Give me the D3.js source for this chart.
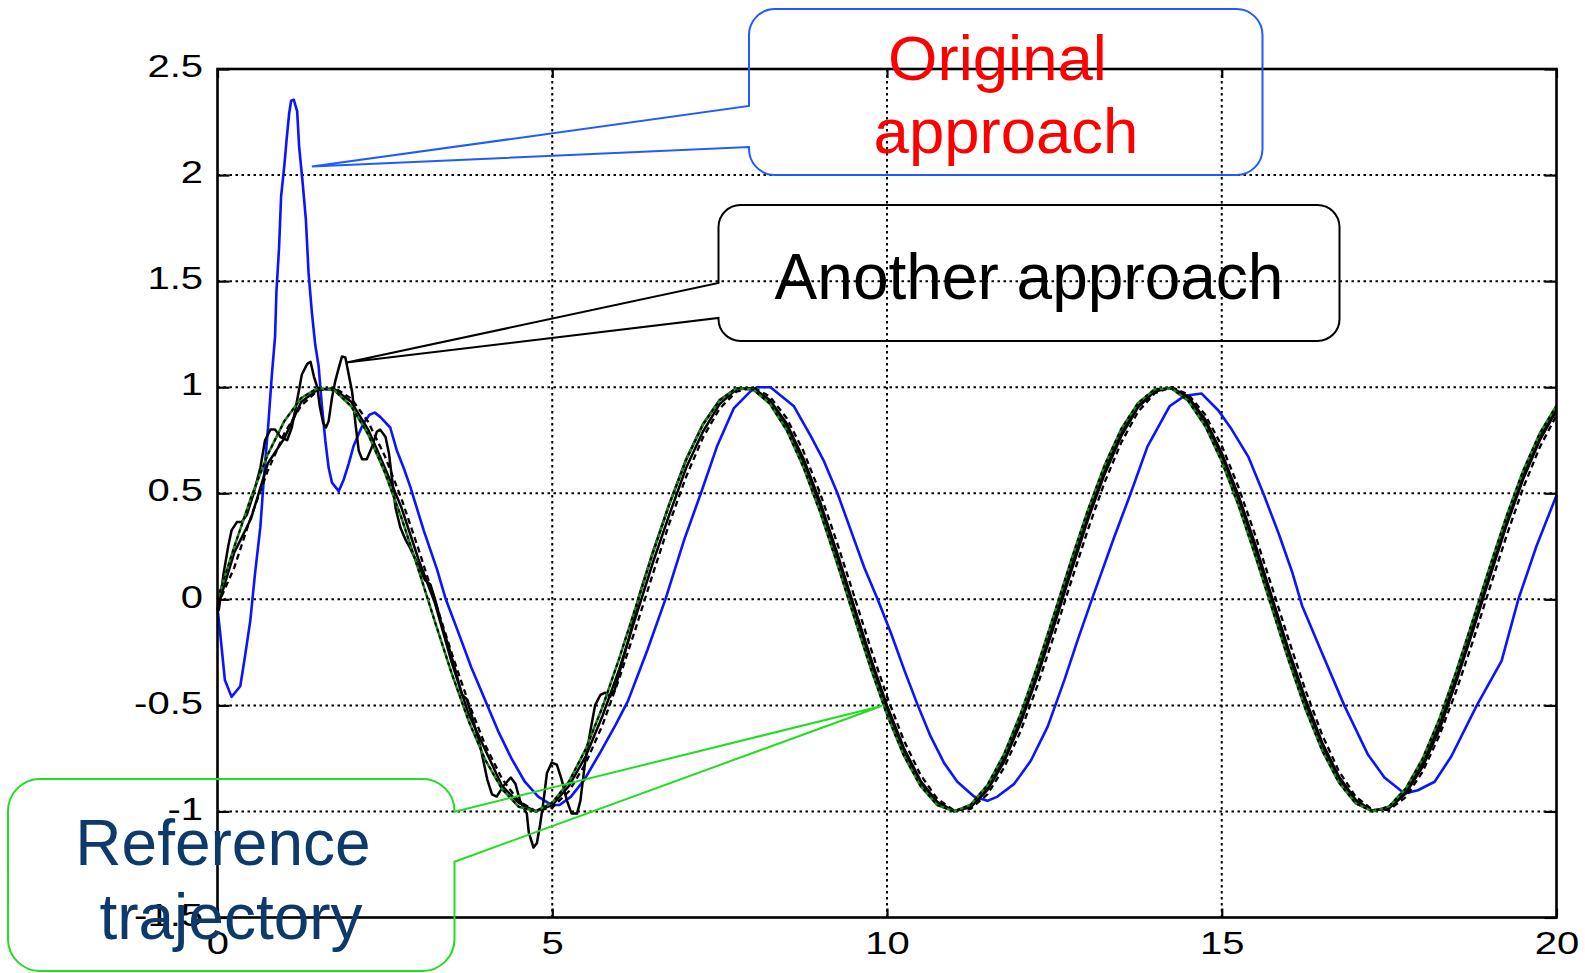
<!DOCTYPE html>
<html>
<head>
<meta charset="utf-8">
<script src="https://cdn.jsdelivr.net/npm/d3@7"></script>
<style>
  body { margin: 0; background: #fff; }
  svg { display: block; font-family: "Liberation Sans", Arial, Helvetica, sans-serif; }
</style>
</head>
<body>
<div id="chart"></div>
<script>
// ---- values ----
const xTicks = [0, 5, 10, 15, 20];
const yTicks = [-1.5, -1, -0.5, 0, 0.5, 1, 1.5, 2, 2.5];
const yTickLabels = ["-1.5", "-1", "-0.5", "0", "0.5", "1", "1.5", "2", "2.5"];

// common time grid for the smooth curves
const sampleT = [
  0, 0.25, 0.5, 0.75, 1, 1.25, 1.5, 1.75, 2, 2.25, 2.5, 2.75, 3, 3.25, 3.5, 3.75, 4, 4.25, 4.5, 4.75,
  5, 5.25, 5.5, 5.75, 6, 6.25, 6.5, 6.75, 7, 7.25, 7.5, 7.75, 8, 8.25, 8.5, 8.75, 9, 9.25, 9.5, 9.75,
  10, 10.25, 10.5, 10.75, 11, 11.25, 11.5, 11.75, 12, 12.25, 12.5, 12.75, 13, 13.25, 13.5, 13.75, 14, 14.25, 14.5, 14.75,
  15, 15.25, 15.5, 15.75, 16, 16.25, 16.5, 16.75, 17, 17.25, 17.5, 17.75, 18, 18.25, 18.5, 18.75, 19, 19.25, 19.5, 19.75,
  20
];

// reference trajectory (green)
const referenceY = [
  0, 0.247, 0.479, 0.682, 0.841, 0.949, 0.997, 0.984, 0.909, 0.778, 0.598, 0.382, 0.141, -0.108, -0.351, -0.572, -0.757, -0.895, -0.978, -0.999,
  -0.959, -0.859, -0.706, -0.508, -0.279, -0.033, 0.215, 0.450, 0.657, 0.823, 0.938, 0.995, 0.989, 0.922, 0.798, 0.624, 0.412, 0.174, -0.075, -0.319,
  -0.544, -0.736, -0.880, -0.970, -1.000, -0.968, -0.876, -0.729, -0.536, -0.311, -0.066, 0.183, 0.420, 0.632, 0.804, 0.926, 0.991, 0.994, 0.935, 0.818,
  0.650, 0.443, 0.206, -0.042, -0.289, -0.517, -0.713, -0.864, -0.962, -1.000, -0.976, -0.891, -0.751, -0.564, -0.342, -0.099, 0.150, 0.389, 0.605, 0.783,
  0.913
];

// black dashed response
const dashedY = [
  -0.03, 0.149, 0.389, 0.605, 0.783, 0.913, 0.985, 0.997, 0.946, 0.837, 0.675, 0.472, 0.239, -0.008, -0.256, -0.488, -0.688, -0.846, -0.952, -0.998,
  -0.982, -0.905, -0.773, -0.593, -0.374, -0.133, 0.117, 0.359, 0.578, 0.762, 0.899, 0.979, 0.999, 0.956, 0.855, 0.700, 0.501, 0.271, 0.025, -0.224,
  -0.458, -0.664, -0.827, -0.940, -0.995, -0.988, -0.919, -0.793, -0.618, -0.404, -0.165, 0.083, 0.328, 0.551, 0.740, 0.884, 0.972, 1.000, 0.966, 0.871,
  0.724, 0.529, 0.303, 0.058, -0.191, -0.428, -0.639, -0.810, -0.930, -0.992, -0.993, -0.932, -0.813, -0.643, -0.434, -0.198, 0.050, 0.296, 0.523, 0.717,
  0.867
];

// second black solid response
const solidY = [
  -0.04, 0.22, 0.38, 0.64, 0.76, 0.93, 0.99, 0.99, 0.93, 0.80, 0.62, 0.43, 0.19, -0.02, -0.30, -0.54, -0.71, -0.88, -0.96, -1.0,
  -0.97, -0.88, -0.74, -0.55, -0.33, -0.08, 0.17, 0.40, 0.62, 0.79, 0.92, 0.99, 0.995, 0.94, 0.83, 0.665, 0.46, 0.225, -0.025, -0.27,
  -0.50, -0.70, -0.855, -0.955, -0.998, -0.98, -0.90, -0.765, -0.58, -0.36, -0.12, 0.13, 0.375, 0.59, 0.77, 0.905, 0.98, 0.998, 0.955, 0.85,
  0.69, 0.49, 0.26, 0.01, -0.24, -0.47, -0.675, -0.835, -0.945, -0.997, -0.985, -0.915, -0.79, -0.615, -0.39, -0.15, 0.10, 0.345, 0.565, 0.75,
  0.89
];

// "Another approach" (black, wiggly)
const anotherT = [
  0, 0.02, 0.09, 0.16, 0.21, 0.29, 0.36, 0.44, 0.54, 0.64, 0.71, 0.79, 0.86, 0.94, 1.04, 1.11, 1.19, 1.26, 1.34, 1.39,
  1.44, 1.49, 1.53, 1.58, 1.62, 1.66, 1.71, 1.76, 1.81, 1.86, 1.91, 1.96, 2.01, 2.06, 2.11, 2.16, 2.23, 2.31, 2.38, 2.43,
  2.51, 2.56, 2.61, 2.66, 2.73, 2.81, 2.88,
  3.0, 3.1, 3.18, 3.25, 3.35, 3.45, 3.55, 3.65, 3.72, 3.8, 3.93, 4.03, 4.10, 4.17, 4.27, 4.38, 4.45, 4.52, 4.62, 4.65,
  4.72, 4.77, 4.82, 4.87, 4.92, 4.99, 5.07, 5.14, 5.22, 5.29, 5.37, 5.42, 5.49, 5.57, 5.64, 5.72, 5.79, 5.86, 5.93, 6.05,
  6.15, 6.3,
  6.5, 6.75, 7, 7.25, 7.5, 7.75, 8, 8.25, 8.5, 8.75, 9, 9.25, 9.5, 9.75, 10, 10.25, 10.5, 10.75, 11, 11.25,
  11.5, 11.75, 12, 12.25, 12.5, 12.75, 13, 13.25, 13.5, 13.75, 14, 14.25, 14.5, 14.75, 15, 15.25, 15.5, 15.75, 16, 16.25,
  16.5, 16.75, 17, 17.25, 17.5, 17.75, 18, 18.25, 18.5, 18.75, 19, 19.25, 19.5, 19.75, 20
];
const anotherY = [
  -0.04, -0.05, 0.12, 0.25, 0.325, 0.364, 0.364, 0.40, 0.50, 0.62, 0.75, 0.80, 0.80, 0.765, 0.75, 0.81, 0.94, 1.06, 1.11, 1.12,
  1.05, 1.0, 0.906, 0.83, 0.81, 0.84, 0.95, 1.03, 1.09, 1.145, 1.14, 1.06, 0.98, 0.83, 0.70, 0.66, 0.66, 0.72, 0.79, 0.80,
  0.765, 0.69, 0.56, 0.43, 0.34, 0.28, 0.24,
  0.16, 0.09, 0.07, 0.0, -0.12, -0.22, -0.33, -0.45, -0.47, -0.55, -0.70, -0.85, -0.92, -0.93, -0.88, -0.84, -0.87, -0.95, -1.01, -1.10,
  -1.17, -1.15, -1.06, -0.95, -0.82, -0.77, -0.78, -0.85, -0.95, -1.01, -1.01, -0.95, -0.77, -0.62, -0.50, -0.45, -0.44, -0.46, -0.43, -0.29,
  -0.18, 0.02,
  0.22, 0.45, 0.66, 0.825, 0.94, 0.995, 0.99, 0.93, 0.81, 0.645, 0.44, 0.20, -0.045, -0.29, -0.52, -0.715, -0.865, -0.96, -1.0, -0.975,
  -0.89, -0.75, -0.555, -0.335, -0.09, 0.155, 0.40, 0.61, 0.79, 0.915, 0.985, 0.998, 0.945, 0.835, 0.67, 0.47, 0.235, -0.015, -0.265, -0.495,
  -0.695, -0.85, -0.955, -0.998, -0.98, -0.905, -0.77, -0.59, -0.365, -0.125, 0.125, 0.365, 0.585, 0.77, 0.90
];

// "Original approach" (blue)
const originalT = [
  0, 0.04, 0.11, 0.21, 0.34, 0.41, 0.49, 0.56, 0.64, 0.69, 0.76, 0.81, 0.86, 0.88, 0.92, 0.95, 1.0, 1.03, 1.07, 1.10,
  1.14, 1.19, 1.22, 1.27, 1.32, 1.36, 1.41, 1.46, 1.51, 1.56, 1.61, 1.66, 1.71, 1.81, 1.88, 1.96, 2.03, 2.11, 2.18, 2.27,
  2.35, 2.43, 2.58, 2.68, 2.78, 2.88, 3.08, 3.28, 3.41, 3.59, 3.79, 3.99, 4.19, 4.39, 4.59, 4.79, 4.99, 5.11, 5.28, 5.48,
  5.72, 5.95, 6.13, 6.42, 6.69, 6.97, 7.22, 7.46, 7.71, 7.96, 8.06, 8.26, 8.61, 8.86, 9.06, 9.26, 9.46, 9.66, 9.86, 10.06,
  10.26, 10.46, 10.65, 10.85, 11.05, 11.3, 11.5, 11.65, 11.9, 12.15, 12.4, 12.65, 12.85, 13.06, 13.22, 13.39, 13.64, 13.89, 14.22, 14.45,
  14.7, 14.95, 15.15, 15.4, 15.62, 15.85, 16.05, 16.2, 16.48, 16.83, 17.18, 17.43, 17.73, 17.93, 18.18, 18.43, 18.81, 19.18, 19.43, 19.7,
  20
];
const originalY = [
  -0.04, -0.16, -0.38, -0.46, -0.41, -0.27, -0.10, 0.12, 0.34, 0.56, 0.83, 1.05, 1.24, 1.45, 1.66, 1.90, 2.05, 2.16, 2.29, 2.35,
  2.355, 2.30, 2.13, 1.97, 1.79, 1.54, 1.35, 1.20, 1.10, 0.91, 0.75, 0.62, 0.55, 0.51, 0.56, 0.64, 0.72, 0.78, 0.83, 0.87,
  0.88, 0.86, 0.81, 0.70, 0.62, 0.53, 0.325, 0.14, 0.0, -0.15, -0.32, -0.47, -0.62, -0.75, -0.86, -0.93, -0.97, -0.97, -0.93, -0.85,
  -0.72, -0.59, -0.48, -0.24, 0.0, 0.28, 0.5, 0.72, 0.90, 0.98, 1.0, 1.0, 0.91, 0.77, 0.65, 0.5, 0.325, 0.15, 0.0, -0.16,
  -0.335, -0.5, -0.645, -0.77, -0.86, -0.93, -0.95, -0.93, -0.87, -0.76, -0.60, -0.38, -0.19, 0.0, 0.14, 0.29, 0.5, 0.72, 0.91, 0.96,
  0.97, 0.89, 0.80, 0.67, 0.5, 0.31, 0.13, -0.03, -0.24, -0.5, -0.73, -0.84, -0.915, -0.9, -0.86, -0.74, -0.5, -0.29, 0.0, 0.25,
  0.49
];

// callout labels and the data point each one points at
const calloutLines = [["Original", "approach"], ["Another approach"], ["Reference", "trajectory"]];
const calloutTips = [[1.41, 2.04], [1.93, 1.116], [9.92, -0.503]];

// ---- layout ----
const width = 1585,
  height = 973;
const plot = { left: 217.5, right: 1556.5, top: 69, bottom: 917.5 };

const svg = d3.select("#chart")
  .append("svg")
  .attr("width", width)
  .attr("height", height);

const x = d3.scaleLinear().domain([0, 20]).range([plot.left, plot.right]);
const y = d3.scaleLinear().domain([-1.5, 2.5]).range([plot.bottom, plot.top]);

// dotted grid
const grid = svg.append("g")
  .attr("stroke", "#000")
  .attr("stroke-width", 2)
  .attr("stroke-dasharray", "2.5,3.5");
grid.selectAll(".gx")
  .data(xTicks.slice(1, -1))
  .enter()
  .append("line")
  .attr("x1", d => x(d)).attr("x2", d => x(d))
  .attr("y1", plot.top).attr("y2", plot.bottom);
grid.selectAll(".gy")
  .data(yTicks.slice(1, -1))
  .enter()
  .append("line")
  .attr("y1", d => y(d)).attr("y2", d => y(d))
  .attr("x1", plot.left).attr("x2", plot.right);

// curves
const line = d3.line()
  .x(d => x(d[0]))
  .y(d => y(d[1]));

const series = [
  { t: originalT, v: originalY, stroke: "#0a14ff", width: 2.6, dash: null },
  { t: anotherT, v: anotherY, stroke: "#000", width: 2.5, dash: null },
  { t: sampleT, v: solidY, stroke: "#000", width: 2.5, dash: null },
  { t: sampleT, v: dashedY, stroke: "#000", width: 2.3, dash: "6,4" },
  { t: sampleT, v: referenceY, stroke: "#1a8a1a", width: 2.5, dash: null },
  { t: sampleT, v: referenceY, stroke: "#000", width: 2, dash: "3.5,3.5" }
];

svg.append("g")
  .attr("fill", "none")
  .selectAll("path")
  .data(series)
  .enter()
  .append("path")
  .attr("d", d => line(d3.zip(d.t, d.v)))
  .attr("stroke", d => d.stroke)
  .attr("stroke-width", d => d.width)
  .attr("stroke-dasharray", d => d.dash)
  .attr("stroke-linejoin", "round");

// axes: ticks point inwards, labels stretched like the original figure
const labelScale = "scale(1.25,1)";
const fmt = d => yTickLabels[yTicks.indexOf(d)];

const axisB = svg.append("g")
  .attr("transform", `translate(0,${plot.bottom})`)
  .call(d3.axisBottom(x).tickValues(xTicks).tickSizeInner(-9).tickSizeOuter(0).tickPadding(14).tickFormat(d3.format("d")));
axisB.selectAll("text").attr("transform", labelScale);

const axisL = svg.append("g")
  .attr("transform", `translate(${plot.left},0)`)
  .call(d3.axisLeft(y).tickValues(yTicks).tickSizeInner(-12).tickSizeOuter(0).tickFormat(fmt));
axisL.selectAll("text")
  .attr("x", -14.5 / 1.25)
  .attr("dy", "0.24em")
  .attr("transform", labelScale);

svg.append("g")
  .attr("transform", `translate(${plot.right},0)`)
  .call(d3.axisRight(y).tickValues(yTicks).tickSizeInner(-12).tickSizeOuter(0).tickFormat(""));
svg.append("g")
  .attr("transform", `translate(0,${plot.top})`)
  .call(d3.axisTop(x).tickValues(xTicks).tickSizeInner(-9).tickSizeOuter(0).tickFormat(""));

svg.selectAll(".domain").remove();
svg.selectAll(".tick line").attr("stroke", "#000").attr("stroke-width", 2.2);
svg.selectAll(".tick text")
  .attr("fill", "#000")
  .style("font-size", "32px")
  .style("font-family", "'Liberation Sans', Arial, sans-serif");

svg.append("rect")
  .attr("x", plot.left)
  .attr("y", plot.top)
  .attr("width", plot.right - plot.left)
  .attr("height", plot.bottom - plot.top)
  .attr("fill", "none")
  .attr("stroke", "#000")
  .attr("stroke-width", 2.6);

// ---- callouts (rounded boxes with a wedge pointing at the curve) ----
function calloutPath(b, tip) {
  const { x0, y0, x1, y1, r, side, w0, w1 } = b;
  const tx = x(tip[0]), ty = y(tip[1]);
  let p = `M${x0 + r},${y0} H${x1 - r} A${r},${r} 0 0 1 ${x1},${y0 + r}`;
  if (side === "right") p += ` V${w0} L${tx},${ty} L${x1},${w1}`;
  p += ` V${y1 - r} A${r},${r} 0 0 1 ${x1 - r},${y1} H${x0 + r} A${r},${r} 0 0 1 ${x0},${y1 - r}`;
  if (side === "left") p += ` V${w1} L${tx},${ty} L${x0},${w0}`;
  p += ` V${y0 + r} A${r},${r} 0 0 1 ${x0 + r},${y0} Z`;
  return p;
}

const callouts = [
  { box: { x0: 749, y0: 9, x1: 1262.5, y1: 175, r: 26, side: "left", w0: 106, w1: 147 },
    stroke: "#1f5bff", color: "#ff0000", size: 63.5, text: [[997.5, 80], [1006, 153]] },
  { box: { x0: 718.5, y0: 205, x1: 1339.5, y1: 341, r: 22, side: "left", w0: 283, w1: 318 },
    stroke: "#000", color: "#000", size: 64, text: [[1029, 298.5]] },
  { box: { x0: 8, y0: 779, x1: 454.5, y1: 971, r: 32, side: "right", w0: 811.7, w1: 861.7 },
    stroke: "#22dd22", color: "#0d3a6b", size: 64, text: [[223, 864.5], [231, 938.5]] }
];

callouts.forEach((c, i) => {
  svg.append("path")
    .attr("d", calloutPath(c.box, calloutTips[i]))
    .attr("fill", "none")
    .attr("stroke", c.stroke)
    .attr("stroke-width", 2);

  calloutLines[i].forEach((s, j) => {
    svg.append("text")
      .attr("x", c.text[j][0])
      .attr("y", c.text[j][1])
      .attr("text-anchor", "middle")
      .attr("fill", c.color)
      .style("font-size", c.size + "px")
      .text(s);
  });
});
</script>
</body>
</html>
